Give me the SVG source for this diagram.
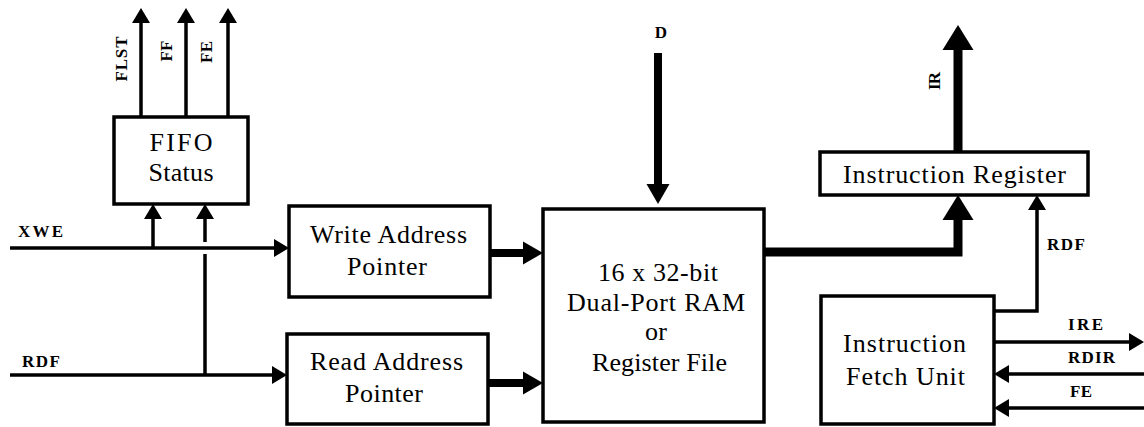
<svg xmlns="http://www.w3.org/2000/svg" width="1144" height="427" viewBox="0 0 1144 427">
  <style>
    .box { fill: #ffffff; stroke: #000000; stroke-width: 3.5; }
    .lbl { font-family: "Liberation Serif", "Times New Roman", "DejaVu Serif", serif; font-size: 26px; fill: #000000; text-anchor: middle; }
    .sig { font-family: "Liberation Serif", "Times New Roman", "DejaVu Serif", serif; font-size: 17px; font-weight: bold; fill: #000000; }
    .mid { text-anchor: middle; }
    .thin { fill: none; stroke: #000000; stroke-width: 3.5; marker-end: url(#ah-thin); }
    .wire { fill: none; stroke: #000000; stroke-width: 3.5; }
    .bus { fill: none; stroke: #000000; stroke-width: 8; marker-end: url(#ah-bus); }
    .wide { fill: none; stroke: #000000; stroke-width: 9; stroke-linejoin: miter; marker-end: url(#ah-wide); }
  </style>
  <defs>
    <!-- arrowheads start at the path end and extend forward to the tip -->
    <marker id="ah-thin" viewBox="0 -9 15 18" refX="0" refY="0" markerWidth="15" markerHeight="18" markerUnits="userSpaceOnUse" orient="auto" overflow="visible">
      <path d="M0,-9 L15,0 L0,9 Z" fill="#000000"/>
    </marker>
    <marker id="ah-bus" viewBox="0 -11.5 20 23" refX="0" refY="0" markerWidth="20" markerHeight="23" markerUnits="userSpaceOnUse" orient="auto" overflow="visible">
      <path d="M0,-11.5 L20,0 L0,11.5 Z" fill="#000000"/>
    </marker>
    <marker id="ah-wide" viewBox="0 -15.5 25 31" refX="0" refY="0" markerWidth="25" markerHeight="31" markerUnits="userSpaceOnUse" orient="auto" overflow="visible">
      <path d="M0,-15.5 L25,0 L0,15.5 Z" fill="#000000"/>
    </marker>
  </defs>

  <g id="connectors">
    <!-- FIFO status outputs -->
    <path class="thin" d="M141,117 V23"/>
    <path class="thin" d="M186,117 V23"/>
    <path class="thin" d="M228,117 V23"/>
    <!-- XWE -->
    <path class="thin" d="M10,248 H274"/>
    <path class="thin" d="M153,248 V219"/>
    <!-- RDF, with a hop where it crosses XWE -->
    <path class="thin" d="M10,375 H272"/>
    <path class="wire" d="M205,375 V254"/>
    <path class="thin" d="M205,242 V219"/>
    <!-- address pointers to RAM -->
    <path class="bus" d="M490,253 H523"/>
    <path class="bus" d="M488,383 H523"/>
    <!-- data in -->
    <path class="bus" d="M658,53 V184"/>
    <!-- RAM to instruction register -->
    <path class="wide" d="M764,252 H958 V220"/>
    <!-- IR out -->
    <path class="wide" d="M958,152 V50"/>
    <!-- RDF from fetch unit to IR -->
    <path class="thin" d="M994,311 H1037 V210"/>
    <!-- fetch unit side signals -->
    <path class="thin" d="M994,342 H1129"/>
    <path class="thin" d="M1144,374 H1009"/>
    <path class="thin" d="M1144,408 H1009"/>
  </g>

  <g id="fifo-status">
    <rect class="box" x="114" y="117" width="134" height="87"/>
    <text class="lbl" x="181" y="151" textLength="63" lengthAdjust="spacing">FIFO</text>
    <text class="lbl" x="181" y="181" textLength="65" lengthAdjust="spacing">Status</text>
  </g>

  <g id="write-address-pointer">
    <rect class="box" x="289" y="206" width="201" height="91"/>
    <text class="lbl" x="388.5" y="243" textLength="157" lengthAdjust="spacing">Write Address</text>
    <text class="lbl" x="387" y="275" textLength="80" lengthAdjust="spacing">Pointer</text>
  </g>

  <g id="read-address-pointer">
    <rect class="box" x="287" y="334" width="201" height="90"/>
    <text class="lbl" x="386.5" y="370" textLength="153" lengthAdjust="spacing">Read Address</text>
    <text class="lbl" x="384" y="402" textLength="78" lengthAdjust="spacing">Pointer</text>
  </g>

  <g id="dual-port-ram">
    <rect class="box" x="543" y="209" width="221" height="213"/>
    <text class="lbl" x="658" y="281" textLength="120" lengthAdjust="spacing">16 x 32-bit</text>
    <text class="lbl" x="656" y="311" textLength="178" lengthAdjust="spacing">Dual-Port RAM</text>
    <text class="lbl" x="656" y="340" textLength="22" lengthAdjust="spacing">or</text>
    <text class="lbl" x="659.5" y="371" textLength="135" lengthAdjust="spacing">Register File</text>
  </g>

  <g id="instruction-register">
    <rect class="box" x="820" y="152" width="268" height="43"/>
    <text class="lbl" x="954.5" y="183" textLength="223" lengthAdjust="spacing">Instruction Register</text>
  </g>

  <g id="instruction-fetch-unit">
    <rect class="box" x="821" y="296" width="173" height="128"/>
    <text class="lbl" x="904.5" y="352" textLength="123" lengthAdjust="spacing">Instruction</text>
    <text class="lbl" x="905.5" y="385" textLength="119" lengthAdjust="spacing">Fetch Unit</text>
  </g>

  <g id="signal-labels">
    <text class="sig" x="18" y="237" textLength="45" lengthAdjust="spacing">XWE</text>
    <text class="sig" x="22" y="367" textLength="38" lengthAdjust="spacing">RDF</text>
    <text class="sig mid" x="661" y="38" textLength="12" lengthAdjust="spacing">D</text>
    <text class="sig" x="1047" y="250" textLength="38" lengthAdjust="spacing">RDF</text>
    <text class="sig" x="1068" y="330" textLength="35" lengthAdjust="spacing">IRE</text>
    <text class="sig" x="1068" y="363" textLength="47" lengthAdjust="spacing">RDIR</text>
    <text class="sig" x="1070" y="397" textLength="22" lengthAdjust="spacing">FE</text>
    <text class="sig mid" transform="translate(127,59) rotate(-90)" textLength="45" lengthAdjust="spacing">FLST</text>
    <text class="sig mid" transform="translate(172,51) rotate(-90)" textLength="21" lengthAdjust="spacing">FF</text>
    <text class="sig mid" transform="translate(212,52) rotate(-90)" textLength="22" lengthAdjust="spacing">FE</text>
    <text class="sig mid" transform="translate(940,81) rotate(-90)" textLength="18" lengthAdjust="spacing">IR</text>
  </g>
</svg>
